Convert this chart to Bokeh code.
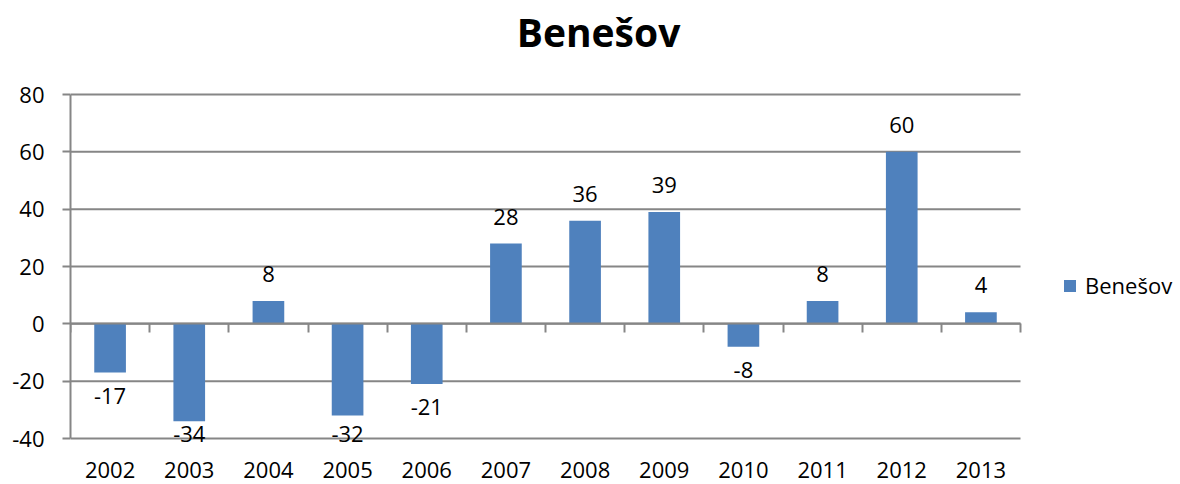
from bokeh.plotting import figure
from bokeh.models import (ColumnDataSource, LabelSet, Label, Legend, LegendItem, LinearAxis,
                          FixedTicker, Range1d)
from bokeh.core.properties import value
from bokeh.embed import file_html
from bokeh.resources import INLINE

years = ["2002", "2003", "2004", "2005", "2006", "2007", "2008", "2009", "2010", "2011", "2012", "2013"]
values = [-17, -34, 8, -32, -21, 28, 36, 39, -8, 8, 60, 4]
series_name = "Benešov"
title_text = "Benešov"
y_ticks = [-40, -20, 0, 20, 40, 60, 80]

FONT = "Open Sans"
FS = "22px"
BAR = "#4F81BD"
GRID = "#868686"

# layout (pixels)
W, H = 1180, 484
LEFT, RIGHT, TOP, BOTTOM = 70, 1020, 94, 438   # visible plot area
PAD_BOTTOM = 12
TITLE_X, TITLE_Y = 598, 31

n = len(years)
ppx = (RIGHT - LEFT) / n
ppu = (BOTTOM - TOP) / (y_ticks[-1] - y_ticks[0])
x_end = (W - LEFT) / ppx
y_start = y_ticks[0] - PAD_BOTTOM / ppu
y_end = y_ticks[-1] + TOP / ppu
below_zero_px = -y_ticks[0] * ppu

xs = [i + 0.5 for i in range(n)]
yoff = []
for v in values:
    if v >= 0:
        yoff.append(27)
    else:
        yoff.append(-min(23, below_zero_px - 5 - abs(v) * ppu))
src = ColumnDataSource(dict(x=xs, y=values, label=[str(v) for v in values], yoff=yoff))

p = figure(width=W, height=H, output_backend="svg", toolbar_location=None, title=None,
           x_range=Range1d(0, x_end), y_range=Range1d(y_start, y_end),
           min_border_left=LEFT, min_border_right=0, min_border_top=0,
           min_border_bottom=H - BOTTOM - PAD_BOTTOM,
           x_axis_type=None, y_axis_type=None)
p.outline_line_color = None
p.background_fill_color = "white"
p.border_fill_color = "white"
p.xgrid.visible = False
p.ygrid.visible = False

# horizontal grid lines across the category area
p.segment(x0=[0] * len(y_ticks), x1=[n] * len(y_ticks), y0=y_ticks, y1=y_ticks,
          line_color=GRID, line_width=2)

r = p.vbar(x="x", top="y", bottom=0, width=0.4, source=src, fill_color=BAR, line_color=None)

# y axis
yax = LinearAxis(ticker=FixedTicker(ticks=y_ticks), bounds=(y_ticks[0], y_ticks[-1]))
yax.major_label_overrides = {t: str(t) for t in y_ticks}
yax.axis_line_color = GRID
yax.axis_line_width = 2
yax.major_tick_line_color = GRID
yax.major_tick_line_width = 2
yax.major_tick_out = 8
yax.major_tick_in = 0
yax.minor_tick_line_color = None
yax.major_label_text_font = FONT
yax.major_label_text_font_size = FS
yax.major_label_text_color = "black"
yax.major_label_standoff = 18
p.add_layout(yax, "left")

# bottom axis with category labels
xax = LinearAxis(ticker=FixedTicker(ticks=xs), bounds=(0, n))
xax.major_label_overrides = {x: y for x, y in zip(xs, years)}
xax.axis_line_color = None
xax.major_tick_line_color = None
xax.minor_tick_line_color = None
xax.major_label_text_font = FONT
xax.major_label_text_font_size = FS
xax.major_label_text_color = "black"
xax.major_label_standoff = 5
p.add_layout(xax, "below")

# axis at zero with category boundary ticks
zax = LinearAxis(ticker=FixedTicker(ticks=list(range(n + 1))), fixed_location=0, bounds=(0, n))
zax.axis_line_color = GRID
zax.axis_line_width = 2
zax.major_tick_line_color = GRID
zax.major_tick_line_width = 2
zax.major_tick_out = 9
zax.major_tick_in = 0
zax.minor_tick_line_color = None
zax.major_label_text_font_size = "0px"
zax.major_label_text_alpha = 0
p.add_layout(zax, "below")

labels = LabelSet(x="x", y="y", text="label", source=src, y_offset="yoff",
                  text_baseline="middle", text_align="center",
                  text_font=value(FONT), text_font_size=FS, text_color="black")
p.add_layout(labels)

title = Label(x=(TITLE_X - LEFT) / ppx, y=y_ticks[-1] + (TOP - TITLE_Y) / ppu, text=title_text,
              text_align="center", text_baseline="middle", text_font=FONT,
              text_font_size="39px", text_font_style="bold", text_color="black")
p.add_layout(title)

legend = Legend(items=[LegendItem(label=series_name, renderers=[r])],
                location=(992, 150), border_line_color=None,
                label_text_font=FONT, label_text_font_size=FS,
                label_text_color="black",
                glyph_width=15, glyph_height=15, label_standoff=8,
                margin=0, padding=4, background_fill_alpha=0)
p.add_layout(legend, "center")

open("out.html", "w").write(file_html(p, INLINE))
